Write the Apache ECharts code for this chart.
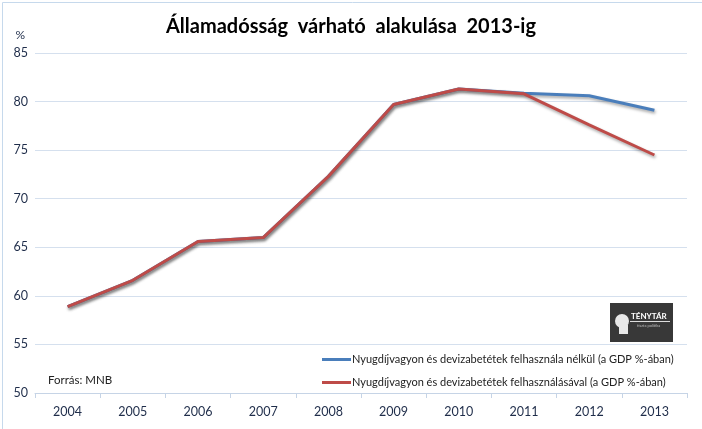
<!DOCTYPE html>
<html><head><meta charset="utf-8">
<script src="https://cdn.jsdelivr.net/npm/echarts@6/dist/echarts.min.js"></script>
<style>html,body{margin:0;padding:0;background:#fff}#c{width:702px;height:429px}</style>
</head><body><div id="c"></div>
<script>
const years = ['2004','2005','2006','2007','2008','2009','2010','2011','2012','2013'];
const withoutUse = [58.9, 61.6, 65.6, 66.0, 72.3, 79.7, 81.3, 80.85, 80.6, 79.1];
const withUse = [58.9, 61.6, 65.6, 66.0, 72.3, 79.7, 81.3, 80.8, 77.6, 74.5];
const seriesNames = ['Nyugdíjvagyon és devizabetétek felhasznála nélkül (a GDP %-ában)',
                     'Nyugdíjvagyon és devizabetétek felhasználásával (a GDP %-ában)'];
const titleText = 'Államadósság  várható  alakulása  2013-ig';
const fontF = 'Lato, "Open Sans", sans-serif';
const chart = echarts.init(document.getElementById('c'), null, {renderer:'canvas'});
const shadow = {shadowColor:'rgba(0,0,0,0.35)', shadowBlur:3, shadowOffsetX:1, shadowOffsetY:2};
chart.setOption({
  animation:false,
  backgroundColor:'#fff',
  title:{text:titleText, left:'center', top:12,
    textStyle:{fontFamily:fontF, fontSize:20, fontWeight:'bold', color:'#000'}},
  grid:{left:35, right:15, top:53, bottom:36},
  legend:{orient:'vertical', left:317, top:349, itemWidth:29, itemHeight:3, itemGap:12,
    icon:'rect', textStyle:{fontFamily:fontF, fontSize:11, color:'#222', padding:[0,0,0,-4]},
    data:seriesNames},
  xAxis:{type:'category', data:years, boundaryGap:true,
    axisLine:{lineStyle:{color:'#c6d4e6', width:1}},
    axisTick:{show:true, length:5, interval:0, lineStyle:{color:'#c6d4e6'}},
    axisLabel:{fontFamily:fontF, fontSize:12.5, color:'#1f2d4a', margin:12},
    splitLine:{show:false}},
  yAxis:{type:'value', min:50, max:85, interval:5,
    name:'%', nameLocation:'end', nameGap:12,
    nameTextStyle:{fontFamily:fontF, fontSize:12, color:'#1f2d4a', align:'right', padding:[0,10,0,0]},
    axisLine:{show:false}, axisTick:{show:false},
    axisLabel:{fontFamily:fontF, fontSize:12.5, color:'#1f2d4a', margin:7},
    splitLine:{lineStyle:{color:'#d5e0ee', width:1}}},
  series:[
    {name:seriesNames[0], type:'line', data:withoutUse, symbol:'none', color:'#4a7ebb',
     lineStyle:Object.assign({width:3, color:'#4a7ebb'}, shadow), z:2},
    {name:seriesNames[1], type:'line', data:withUse, symbol:'none', color:'#be4b48',
     lineStyle:Object.assign({width:3, color:'#be4b48'}, shadow), z:3}
  ],
  graphic:[
    {type:'rect', left:0, top:0, shape:{x:0.5,y:0.5,width:700,height:427}, style:{fill:'none', stroke:'#c6d9ec', lineWidth:1}},
    {type:'text', left:48, top:374, style:{text:'Forrás: MNB', fontFamily:fontF, fontSize:11.5, fill:'#222'}},
    {type:'group', left:610, top:303, children:[
      {type:'rect', shape:{x:0,y:0,width:63,height:39}, style:{fill:'#383838'}},
      {type:'circle', shape:{cx:12,cy:18,r:7}, style:{fill:'#e8e8e8'}},
      {type:'rect', shape:{x:9,y:22,width:9,height:9}, style:{fill:'#e8e8e8'}},
      {type:'text', x:21, y:9, style:{text:'TÉNYTÁR', fontFamily:fontF, fontSize:8, fontWeight:'bold', fill:'#fff'}},
      {type:'rect', shape:{x:20,y:18,width:40,height:1}, style:{fill:'#ddd'}},
      {type:'text', x:27, y:21, style:{text:'tiszta politika', fontFamily:fontF, fontSize:4, fill:'#bbb'}}
    ]}
  ]
});
</script></body></html>
